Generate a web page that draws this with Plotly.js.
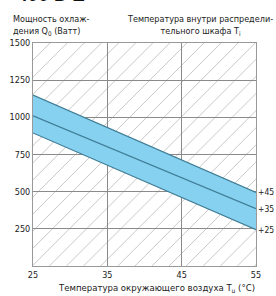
<!DOCTYPE html>
<html>
<head>
<meta charset="utf-8">
<script src="https://cdn.plot.ly/plotly-3.0.1.min.js"></script>
<style>html,body{margin:0;padding:0;background:#fff;}#chart{width:276px;height:296px;}</style>
</head>
<body>
<div id="chart"></div>
<script>
// Data
const ambientTemp = [25, 55];                // T_u (°C)
const inside45 = [1150, 495];                // Ti = +45 °C
const inside35 = [1010, 385];                // Ti = +35 °C
const inside25 = [895, 245];                 // Ti = +25 °C
const lineLabels = ['+45', '+35', '+25'];
const xTicks = [25, 35, 45, 55];
const yTicks = [250, 500, 750, 1000, 1250, 1500];

const FONT = 'DejaVu Sans Condensed, Liberation Sans Narrow, Liberation Sans, sans-serif';
const lineColor = '#3f7d96';
const bandColor = '#86d1ef';

const traces = [
  { x: ambientTemp, y: inside25, mode: 'lines', line: { color: lineColor, width: 1.2 }, showlegend: false },
  { x: ambientTemp, y: inside45, mode: 'lines', fill: 'tonexty', fillcolor: bandColor,
    line: { color: lineColor, width: 1.2 }, showlegend: false },
  { x: ambientTemp, y: inside35, mode: 'lines', line: { color: lineColor, width: 1.2 }, showlegend: false }
];

// Decorative diagonal hatching of the plot field (clipped to the axes)
const shapes = [];
const slope = 1500 / 30;   // ~45° on screen
for (let x0 = 25 - 30; x0 < 55; x0 += 2.3) {
  shapes.push({ type: 'line', xref: 'x', yref: 'y', layer: 'below',
    x0: x0, y0: 0, x1: x0 + 1500 / slope, y1: 1500,
    line: { color: '#c8c8c8', width: 1 } });
}

const ends = [inside45[1], inside35[1], inside25[1]];
const annotations = ends.map((v, i) => ({
  x: ambientTemp[1], y: v, xref: 'x', yref: 'y', text: lineLabels[i], showarrow: false,
  xanchor: 'left', xshift: 0, font: { family: FONT, size: 8.5, color: '#222' }
}));

annotations.push(
  { xref: 'paper', yref: 'paper', x: 0, y: 1, xanchor: 'left', yanchor: 'bottom', xshift: -18, yshift: 36,
    text: '<b>400 D Z</b>', showarrow: false, font: { family: 'Liberation Sans, sans-serif', size: 19, color: '#111' } },
  { xref: 'paper', yref: 'paper', x: 0, y: 1, xanchor: 'left', yanchor: 'bottom', xshift: -22, yshift: 4,
    align: 'left', showarrow: false,
    text: 'Мощность охлаж-<br>дения Q<sub>0</sub> (Ватт)', font: { family: FONT, size: 9, color: '#222' } },
  { xref: 'paper', yref: 'paper', x: 1, y: 1, xanchor: 'right', yanchor: 'bottom', xshift: 19, yshift: 4,
    align: 'center', showarrow: false,
    text: 'Температура внутри распредели-<br>тельного шкафа T<sub>i</sub>', font: { family: FONT, size: 9, color: '#222' } },
  { xref: 'paper', yref: 'paper', x: 1, y: 0, xanchor: 'right', yanchor: 'top', yshift: -14, xshift: 1,
    showarrow: false,
    text: 'Температура окружающего воздуха T<sub>u</sub> (°C)', font: { family: FONT, size: 9.5, color: '#222' } }
);

const layout = {
  width: 276, height: 296,
  margin: { l: 33, r: 20, t: 43, b: 30, pad: 0 },
  paper_bgcolor: '#fff', plot_bgcolor: '#fff',
  showlegend: false,
  font: { family: FONT, size: 9, color: '#222' },
  xaxis: {
    range: [25, 55], tickvals: xTicks, ticktext: xTicks.map(String),
    showgrid: true, gridcolor: '#8a8a8a', gridwidth: 1.2,
    showline: true, mirror: true, linecolor: '#999', linewidth: 1,
    zeroline: false, ticks: '', ticklen: 0, tickfont: { family: FONT, size: 9, color: '#222' }
  },
  yaxis: {
    range: [0, 1500], tickvals: yTicks, ticktext: yTicks.map(String),
    showgrid: true, gridcolor: '#8a8a8a', gridwidth: 1.2,
    showline: true, mirror: true, linecolor: '#999', linewidth: 1,
    zeroline: false, ticks: '', ticklen: 0, tickfont: { family: FONT, size: 9, color: '#222' }
  },
  shapes: shapes,
  annotations: annotations
};

Plotly.newPlot('chart', traces, layout, { staticPlot: true, displayModeBar: false });
</script>
</body>
</html>
